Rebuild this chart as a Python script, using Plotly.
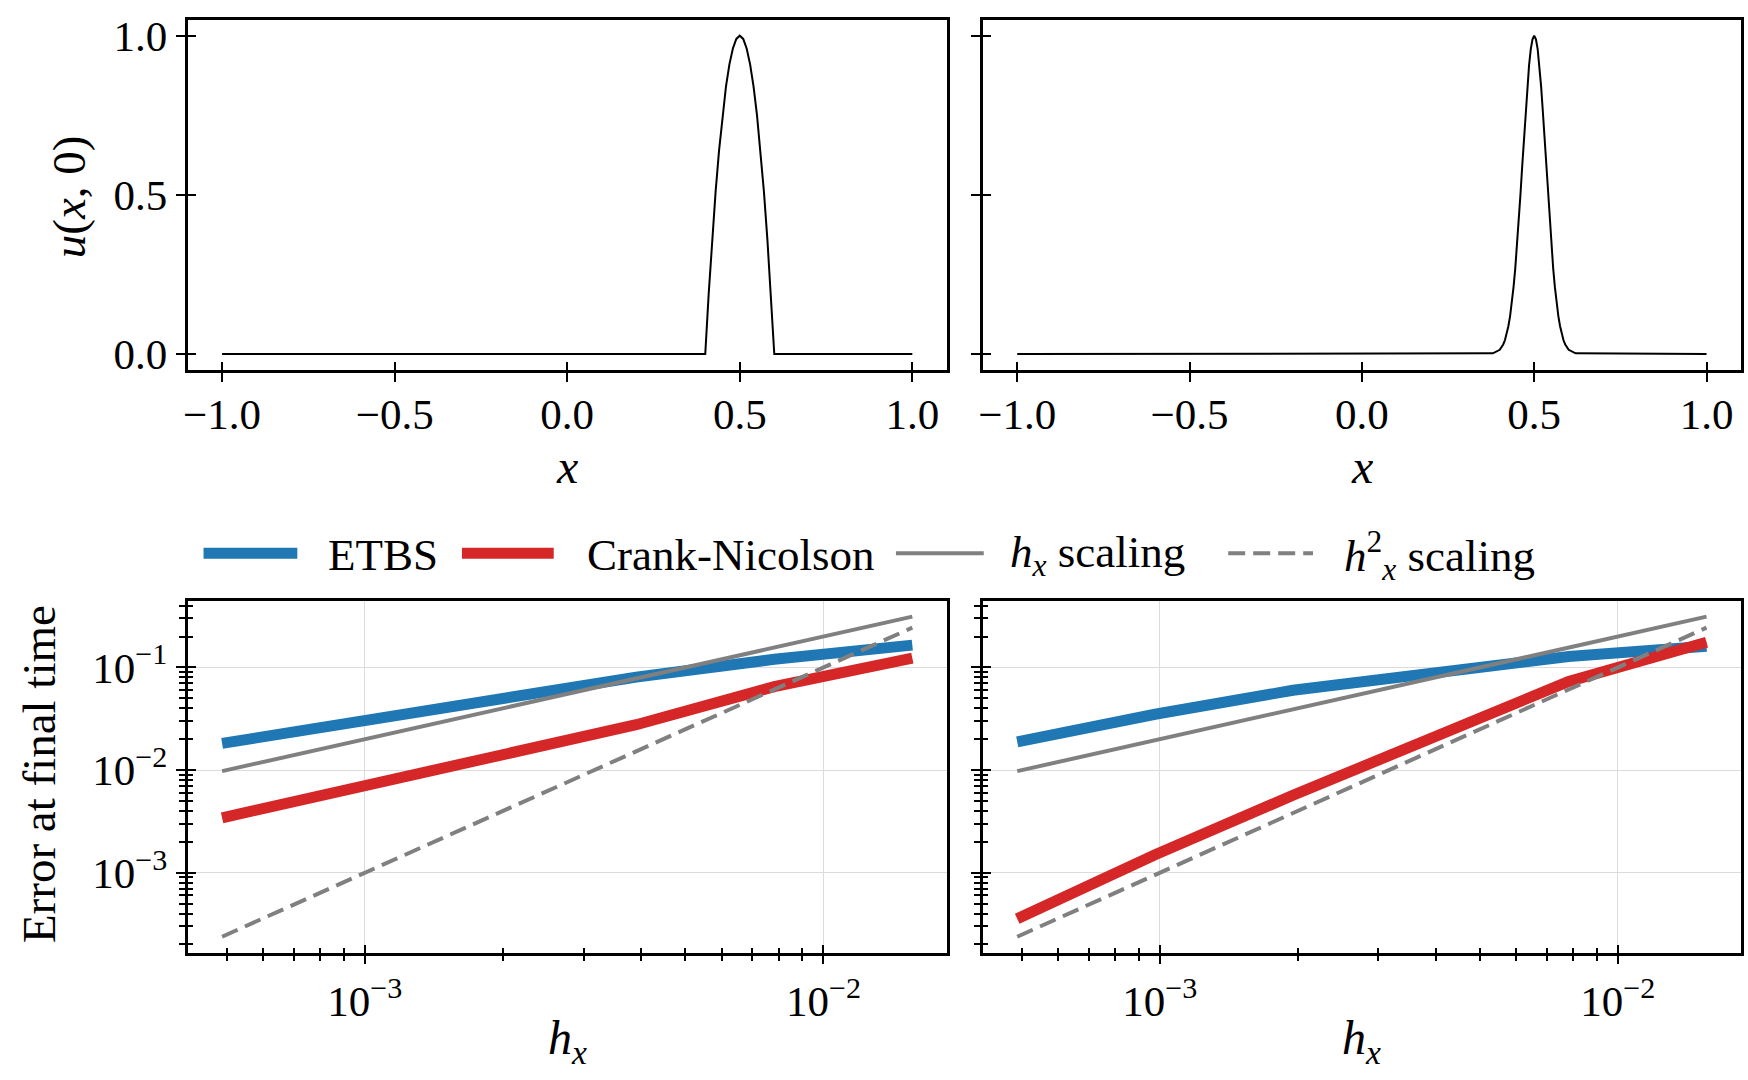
import plotly.graph_objects as go

# ---------------- data ----------------
# top-left: initial condition (parabolic bump)
x_bump = [-1.0, 0.40, 0.41, 0.42, 0.43, 0.44, 0.45, 0.46, 0.47, 0.48, 0.49, 0.50,
          0.51, 0.52, 0.53, 0.54, 0.55, 0.56, 0.57, 0.58, 0.59, 0.60, 1.0]
u_bump = [0.0, 0.0, 0.19, 0.36, 0.51, 0.64, 0.75, 0.84, 0.91, 0.96, 0.99, 1.0,
          0.99, 0.96, 0.91, 0.84, 0.75, 0.64, 0.51, 0.36, 0.19, 0.0, 0.0]

# top-right: initial condition (gaussian-like bump)
x_gauss = [-1.0, 0.38, 0.40, 0.405, 0.41, 0.415, 0.42, 0.425, 0.43, 0.435, 0.44, 0.445,
           0.45, 0.455, 0.46, 0.465, 0.47, 0.475, 0.48, 0.485, 0.49, 0.495, 0.50,
           0.505, 0.51, 0.515, 0.52, 0.525, 0.53, 0.535, 0.54, 0.545, 0.55, 0.555,
           0.56, 0.565, 0.57, 0.575, 0.58, 0.585, 0.59, 0.595, 0.60, 0.62, 1.0]
u_gauss = [0.0, 0.002, 0.013, 0.020, 0.030, 0.043, 0.062, 0.087, 0.119, 0.160, 0.210, 0.269,
           0.338, 0.415, 0.500, 0.588, 0.677, 0.762, 0.841, 0.907, 0.958, 0.989, 1.000,
           0.989, 0.958, 0.907, 0.841, 0.762, 0.677, 0.588, 0.500, 0.415, 0.338, 0.269,
           0.210, 0.160, 0.119, 0.087, 0.062, 0.043, 0.030, 0.020, 0.013, 0.002, 0.0]

# bottom: convergence
hx = [0.00048828125, 0.0009765625, 0.001953125, 0.00390625, 0.0078125, 0.015625]
etbs_left = [0.0182, 0.0302, 0.0513, 0.0805, 0.120, 0.165]
cn_left = [0.00343, 0.00692, 0.01425, 0.0277, 0.065, 0.123]
etbs_right = [0.0188, 0.035, 0.060, 0.090, 0.128, 0.161]
cn_right = [0.000356, 0.0015, 0.00568, 0.0206, 0.073, 0.176]
hx_scaling = [0.009766, 0.01953, 0.03906, 0.07813, 0.15625, 0.3125]
hx2_scaling = [0.000238, 0.000954, 0.003815, 0.01526, 0.06104, 0.2441]

series_names = ["ETBS", "Crank-Nicolson", "<i>h<sub>x</sub></i> scaling",
                "<i>h</i><sup>2</sup><sub><i>x</i></sub> scaling"]

lin_ticks = [-1.0, -0.5, 0.0, 0.5, 1.0]
lin_ticktext = ["\u22121.0", "\u22120.5", "0.0", "0.5", "1.0"]
u_ticks = [0.0, 0.5, 1.0]
u_ticktext = ["0.0", "0.5", "1.0"]
hx_major = [1e-3, 1e-2]
hx_major_text = ["10<sup>\u22123</sup>", "10<sup>\u22122</sup>"]
hx_minor = [5e-4, 6e-4, 7e-4, 8e-4, 9e-4, 2e-3, 3e-3, 4e-3, 5e-3, 6e-3, 7e-3, 8e-3, 9e-3]
err_major = [1e-3, 1e-2, 1e-1]
err_major_text = ["10<sup>\u22123</sup>", "10<sup>\u22122</sup>", "10<sup>\u22121</sup>"]
err_minor = [2e-4, 3e-4, 4e-4, 5e-4, 6e-4, 7e-4, 8e-4, 9e-4,
             2e-3, 3e-3, 4e-3, 5e-3, 6e-3, 7e-3, 8e-3, 9e-3,
             2e-2, 3e-2, 4e-2, 5e-2, 6e-2, 7e-2, 8e-2, 9e-2,
             2e-1, 3e-1, 4e-1]

FONT = "Liberation Serif"
BLUE = "#1f77b4"
RED = "#d62728"
GRAY = "#808080"
DASH = "17px,8px"
series_styles = [dict(color=BLUE, width=11), dict(color=RED, width=11),
                 dict(color=GRAY, width=4), dict(color=GRAY, width=4, dash=DASH)]

fig = go.Figure()

# top panels
fig.add_trace(go.Scatter(x=x_bump, y=u_bump, mode="lines", line=dict(color="black", width=2),
                         xaxis="x", yaxis="y", showlegend=False))
fig.add_trace(go.Scatter(x=x_gauss, y=u_gauss, mode="lines", line=dict(color="black", width=2),
                         xaxis="x2", yaxis="y2", showlegend=False))

# bottom panels
for i, (etbs, cn) in enumerate([(etbs_left, cn_left), (etbs_right, cn_right)]):
    xa, ya = ("x3", "y3") if i == 0 else ("x4", "y4")
    for name, vals, st in zip(series_names, [etbs, cn, hx_scaling, hx2_scaling], series_styles):
        fig.add_trace(go.Scatter(x=hx, y=vals, mode="lines", name=name, line=st,
                                 xaxis=xa, yaxis=ya, showlegend=False))

W, H = 1748, 1080
xd_left = [184 / W, 945 / W]
xd_right = [981 / W, 1741 / W]
yd_top = [1 - 368 / H, 1 - 13 / H]
yd_bot = [1 - 959 / H, 1 - 602 / H]

tickfont = dict(family=FONT, size=43, color="black")
base = dict(showline=True, linecolor="black", linewidth=2.5, mirror=True,
            ticks="outside", ticklen=9, tickwidth=2, tickcolor="black",
            zeroline=False, showgrid=False, tickfont=tickfont)

lin_x = dict(base, range=[-1.1, 1.1], tickmode="array", tickvals=lin_ticks, ticktext=lin_ticktext,
             ticklabelstandoff=-4)
lin_y = dict(base, range=[-0.05, 1.05], tickmode="array", tickvals=u_ticks, ticktext=u_ticktext,
             ticklabelstandoff=0)
minor_style = dict(ticks="outside", ticklen=6, tickwidth=1.5, tickcolor="black", showgrid=False)
log_x = dict(base, type="log", range=[-3.3866, -1.7309], tickmode="array", tickvals=hx_major,
             ticktext=hx_major_text, showgrid=True, gridcolor="#dcdcdc", gridwidth=1,
             minor=dict(minor_style, tickvals=hx_minor), ticklabelstandoff=0)
log_y = dict(base, type="log", range=[-3.779, -0.349], tickmode="array", tickvals=err_major,
             ticktext=err_major_text, showgrid=True, gridcolor="#dcdcdc", gridwidth=1,
             minor=dict(minor_style, tickvals=err_minor), ticklabelstandoff=0)

layout_axes = dict(
    xaxis=dict(lin_x, domain=xd_left, anchor="y"),
    yaxis=dict(lin_y, domain=yd_top, anchor="x"),
    xaxis2=dict(lin_x, domain=xd_right, anchor="y2"),
    yaxis2=dict(lin_y, domain=yd_top, anchor="x2", showticklabels=False),
    xaxis3=dict(log_x, domain=xd_left, anchor="y3"),
    yaxis3=dict(log_y, domain=yd_bot, anchor="x3"),
    xaxis4=dict(log_x, domain=xd_right, anchor="y4"),
    yaxis4=dict(log_y, domain=yd_bot, anchor="x4", showticklabels=False),
)


# inward part of matplotlib "inout" ticks via overlaying axes
def inner(ax, overlay, anchor):
    d = {k: v for k, v in ax.items() if k in ("range", "type", "tickmode", "tickvals")}
    d.update(overlaying=overlay, anchor=anchor, ticks="inside", ticklen=8, tickwidth=2,
             tickcolor="black", showticklabels=False, showline=False, showgrid=False,
             zeroline=False)
    if "minor" in ax:
        d["minor"] = dict(tickvals=ax["minor"]["tickvals"], ticks="inside", ticklen=5,
                          tickwidth=1.5, tickcolor="black", showgrid=False)
    return d


pairs = [("x", "y", lin_x, lin_y), ("x2", "y2", lin_x, lin_y),
         ("x3", "y3", log_x, log_y), ("x4", "y4", log_x, log_y)]
for k, (xa, ya, lx, ly) in enumerate(pairs):
    nx, ny = 5 + 2 * k, 6 + 2 * k
    layout_axes[f"xaxis{nx}"] = inner(lx, xa, ya)
    layout_axes[f"yaxis{ny}"] = inner(ly, ya, xa)
    fig.add_trace(go.Scatter(x=[], y=[], mode="lines", xaxis=f"x{nx}", yaxis=f"y{ny}",
                             showlegend=False, hoverinfo="skip"))

fig.update_layout(
    width=W, height=H,
    margin=dict(l=0, r=0, t=0, b=0),
    paper_bgcolor="white", plot_bgcolor="white",
    font=dict(family=FONT, size=42, color="black"),
    showlegend=False,
    **layout_axes,
)

# axis titles
annotations = [
    dict(text="<i>x</i>", x=(xd_left[0] + xd_left[1]) / 2, y=1 - 466 / H, size=48),
    dict(text="<i>x</i>", x=(xd_right[0] + xd_right[1]) / 2, y=1 - 466 / H, size=48),
    dict(text="<i>u</i>(<i>x</i>, 0)", x=65 / W, y=1 - 192 / H, textangle=-90, size=47),
    dict(text="Error at final time", x=35 / W, y=1 - 778 / H, textangle=-90, size=47),
]
for a in annotations:
    size = a.pop("size")
    fig.add_annotation(xref="paper", yref="paper", showarrow=False, xanchor="center",
                       yanchor="middle", font=dict(family=FONT, size=size, color="black"), **a)
for xc in [(xd_left[0] + xd_left[1]) / 2, (xd_right[0] + xd_right[1]) / 2]:
    fig.add_annotation(xref="paper", yref="paper", showarrow=False, xanchor="center",
                       yanchor="bottom", x=xc, y=0.0, borderpad=0, text="<i>h<sub>x</sub></i>",
                       font=dict(family=FONT, size=48, color="black"))

# legend (symbol lines + labels), laid out like the reference
leg_y = 1 - 554 / H
sym_x = [(200, 294), (459, 551), (894, 982), (1227, 1312)]
txt_x = [323, 582, 1006, 1341]
for (x0, x1), tx, name, st in zip(sym_x, txt_x, series_names, series_styles):
    fig.add_shape(type="line", xref="paper", yref="paper", x0=x0 / W, x1=x1 / W,
                  y0=leg_y, y1=leg_y, line=st)
    fig.add_annotation(xref="paper", yref="paper", showarrow=False, xanchor="left",
                       yanchor="middle", x=tx / W, y=1 - 556 / H, text=name,
                       font=dict(family=FONT, size=45, color="black"))

fig.write_html("out.html", config={"displayModeBar": False},
               post_script="document.body.style.margin='0px';")
